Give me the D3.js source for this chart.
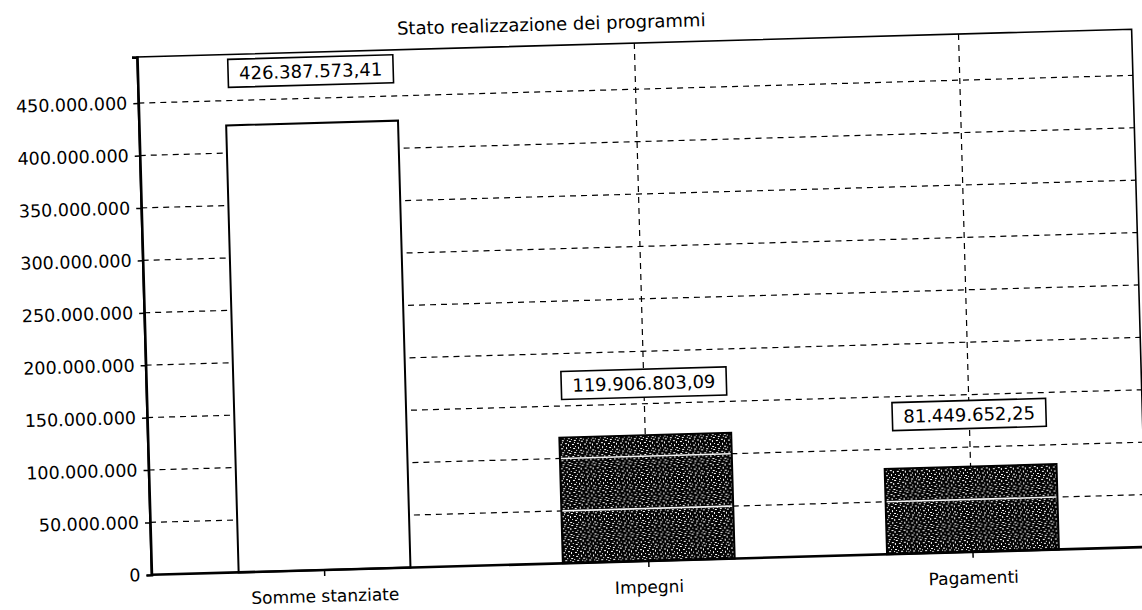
<!DOCTYPE html>
<html>
<head>
<meta charset="utf-8">
<script src="https://cdn.jsdelivr.net/npm/d3@7"></script>
<style>
  html, body { margin: 0; padding: 0; background: #fff; }
  svg { display: block; }
  text { font-family: "DejaVu Sans", sans-serif; fill: #000; }
</style>
</head>
<body>
<svg id="chart" width="1142" height="610"></svg>
<script>
// Stato realizzazione dei programmi — importi in euro
const chartTitle = "Stato realizzazione dei programmi";
const categories = ["Somme stanziate", "Impegni", "Pagamenti"];
const amounts = [426387573.41, 119906803.09, 81449652.25];
const yTickValues = [0, 50e6, 100e6, 150e6, 200e6, 250e6, 300e6, 350e6, 400e6, 450e6];
const yMax = 494e6;

// Italian number formatting: "." for thousands, "," for decimals
const it = d3.formatLocale({ decimal: ",", thousands: ".", grouping: [3], currency: ["€", ""] });
const fmtTick = it.format(",.0f");
const fmtValue = it.format(",.2f");

// plot frame (the page sits slightly skewed)
const origin = { x: 137, y: 57 };
const tilt = -1.6;
const W = 995, H = 518;

const svg = d3.select("#chart");

// coarse dark grain for the spending bars
const defs = svg.append("defs");
const pat = defs.append("pattern")
  .attr("id", "speckle")
  .attr("patternUnits", "userSpaceOnUse")
  .attr("width", 12).attr("height", 12);
pat.append("rect").attr("width", 12).attr("height", 12).attr("fill", "#050505");
const specks = [[1,0,2,1],[6,1,1,1],[9,2,2,1],[0,3,1,2],[4,3,2,1],[7,5,1,1],[2,6,1,1],[10,6,1,2],
                [5,7,2,1],[0,9,2,1],[8,9,1,1],[3,10,1,1],[6,11,2,1],[11,11,1,1]];
pat.selectAll("rect.s").data(specks).join("rect")
  .attr("class", "s")
  .attr("x", d => d[0]).attr("y", d => d[1])
  .attr("width", d => d[2]).attr("height", d => d[3])
  .attr("fill", "#ffffff");

const g = svg.append("g")
  .attr("transform", `translate(${origin.x},${origin.y}) rotate(${tilt})`);

const x = d3.scaleBand()
  .domain(categories)
  .range([11, 984])
  .paddingInner(0.47)
  .paddingOuter(0.235);

const y = d3.scaleLinear().domain([0, yMax]).range([H, 0]);

// title
g.append("text")
  .attr("x", 415).attr("y", -15)
  .attr("text-anchor", "middle")
  .style("font-size", "18px")
  .text(chartTitle);

// dashed grid
const grid = g.append("g").attr("fill", "none").attr("stroke", "#000")
  .attr("stroke-width", 1.2).attr("stroke-dasharray", "6,5");
grid.selectAll("line.h").data(yTickValues.filter(v => v > 0)).join("line")
  .attr("class", "h")
  .attr("x1", 0).attr("x2", W)
  .attr("y1", d => y(d)).attr("y2", d => y(d));
grid.selectAll("line.v").data(categories.slice(1)).join("line")
  .attr("class", "v")
  .attr("x1", d => x(d) + x.bandwidth() / 2).attr("x2", d => x(d) + x.bandwidth() / 2)
  .attr("y1", 0).attr("y2", H);

// bars
const rows = categories.map((c, i) => ({ cat: c, value: amounts[i], i }));
g.selectAll("rect.bar").data(rows).join("rect")
  .attr("class", "bar")
  .attr("x", d => x(d.cat))
  .attr("y", d => y(d.value))
  .attr("width", x.bandwidth())
  .attr("height", d => H - y(d.value))
  .attr("fill", d => d.i === 0 ? "#fff" : "url(#speckle)")
  .attr("stroke", "#000")
  .attr("stroke-width", 2);

// grid values show through the dark bars as light streaks
const streaks = [];
rows.filter(d => d.i > 0).forEach(d => {
  yTickValues.filter(v => v > 0 && v < d.value).forEach(v => streaks.push({ cat: d.cat, v }));
});
g.selectAll("line.streak").data(streaks).join("line")
  .attr("class", "streak")
  .attr("x1", d => x(d.cat) + 1).attr("x2", d => x(d.cat) + x.bandwidth() - 1)
  .attr("y1", d => y(d.v)).attr("y2", d => y(d.v))
  .attr("stroke", "#f4f4f4").attr("stroke-width", 1.6);

// value labels in boxes
const labels = g.selectAll("g.vlabel").data(rows).join("g")
  .attr("class", "vlabel")
  .attr("transform", d => `translate(${x(d.cat) + x.bandwidth() / 2},${y(d.value) - 52})`);
labels.append("text")
  .attr("text-anchor", "middle")
  .attr("dy", "0.36em")
  .style("font-size", "18px")
  .text(d => fmtValue(d.value));
labels.each(function () {
  const grp = d3.select(this);
  const bb = grp.select("text").node().getBBox();
  grp.insert("rect", "text")
    .attr("x", -bb.width / 2 - 11).attr("y", -14)
    .attr("width", bb.width + 22).attr("height", 28)
    .attr("fill", "#fff").attr("stroke", "#000").attr("stroke-width", 1.6);
});

// plot frame
g.append("path")
  .attr("d", `M0,${H} L0,0 L${W},0 L${W},${H}`)
  .attr("fill", "none").attr("stroke", "#000").attr("stroke-width", 1.6);

// axes
const yAxis = g.append("g")
  .call(d3.axisLeft(y).tickValues(yTickValues).tickFormat(fmtTick).tickSize(5).tickPadding(6));
yAxis.select(".domain").attr("stroke-width", 2.6);
yAxis.selectAll(".tick line").attr("stroke-width", 1.5);
yAxis.selectAll("text").style("font-size", "17.5px");

const xAxis = g.append("g")
  .attr("transform", `translate(0,${H})`)
  .call(d3.axisBottom(x).tickSize(6).tickPadding(14).tickSizeOuter(0));
xAxis.select(".domain").attr("d", `M0,0H${W}`).attr("stroke-width", 2.6);
xAxis.selectAll(".tick line").attr("stroke-width", 1.5);
xAxis.selectAll("text").style("font-size", "17px");
</script>
</body>
</html>
